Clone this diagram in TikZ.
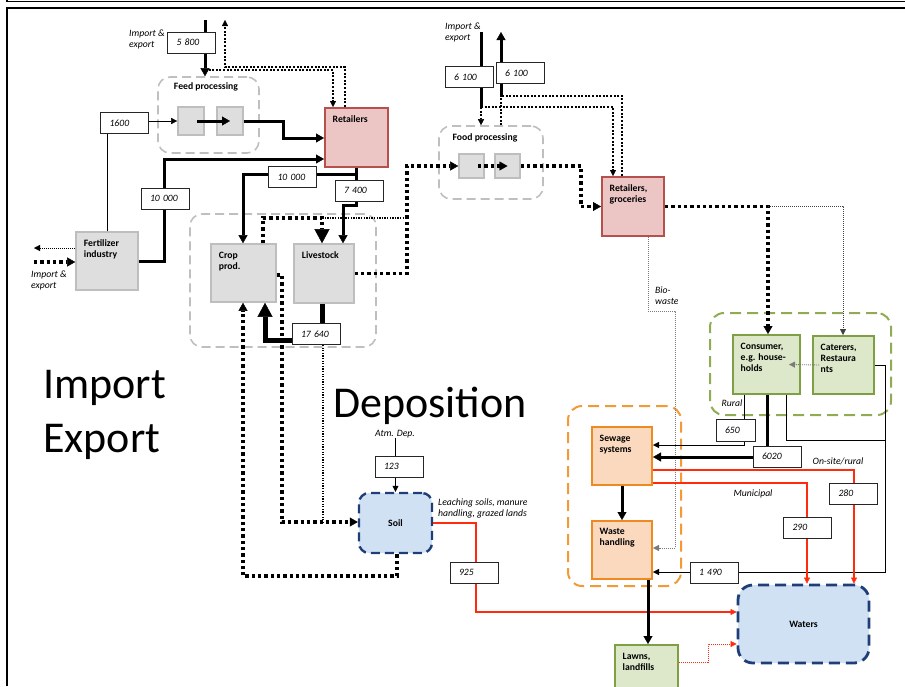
\documentclass[tikz,border=0pt]{standalone}
\usepackage{fontspec}
\setmainfont{Carlito}
\usetikzlibrary{arrows.meta}
\definecolor{gfill}{HTML}{DEDEDE}
\definecolor{gline}{HTML}{BEBEBE}
\definecolor{gdash}{HTML}{BFBFBF}
\definecolor{pfill}{HTML}{ECC5C5}
\definecolor{pline}{HTML}{B5504C}
\definecolor{grfill}{HTML}{DDE7CA}
\definecolor{grline}{HTML}{7F9F45}
\definecolor{grdash}{HTML}{8FAC55}
\definecolor{ofill}{HTML}{FBD9BE}
\definecolor{oline}{HTML}{EE8A22}
\definecolor{odash}{HTML}{F29A35}
\definecolor{bfill}{HTML}{D0E1F3}
\definecolor{bline}{HTML}{1F3E78}
\definecolor{redc}{HTML}{FF2B0F}
\definecolor{dgray}{HTML}{7A7A7A}
\newcommand\sfnt{\fontsize{9.7}{11}\selectfont}
\newcommand\bigfnt{\fontsize{44}{54}\selectfont}
\tikzset{
  grp/.style={draw=gdash, line width=1.6pt, dash pattern=on 9pt off 5pt, rounded corners=12pt, inner sep=0pt},
  grpgreen/.style={draw=grdash, line width=2pt, dash pattern=on 11pt off 6pt, rounded corners=14pt, inner sep=0pt},
  grporange/.style={draw=odash, line width=2pt, dash pattern=on 11pt off 6pt, rounded corners=14pt, inner sep=0pt},
  gbox/.style={draw=gline, fill=gfill, line width=1.6pt, inner sep=0pt},
  pbox/.style={draw=pline, fill=pfill, line width=2pt, inner sep=0pt},
  grbox/.style={draw=grline, fill=grfill, line width=2pt, inner sep=0pt},
  obox/.style={draw=oline, fill=ofill, line width=2pt, inner sep=0pt},
  bbox/.style={draw=bline, fill=bfill, line width=2.4pt, dash pattern=on 9pt off 5pt, rounded corners=10pt, inner sep=0pt},
  num/.style={draw=black!85, fill=white, line width=0.9pt, font=\sfnt\itshape, align=left, text width=30pt, inner xsep=9pt, inner ysep=0pt, minimum height=21pt},
  tl/.style={label={[anchor=north west,inner sep=0pt,xshift=8.5pt,yshift=-8.5pt,align=left,font=\sfnt\bfseries]north west:{#1}}},
  txt/.style={font=\sfnt\itshape, inner sep=0pt, align=left},
  thinl/.style={line width=0.9pt},
  thickl/.style={line width=3pt},
  vthick/.style={line width=5pt},
  dotA/.style={line width=3.3pt, dash pattern=on 3.3pt off 3pt},
  dotB/.style={line width=2pt, dash pattern=on 2pt off 1.6pt},
  dotM/.style={line width=1.3pt, dash pattern=on 1.3pt off 1.3pt},
  dotC/.style={line width=0.9pt, dash pattern=on 1pt off 1pt},
  redthin/.style={draw=redc, line width=1.2pt},
  tipS/.tip={Triangle[length=6pt,width=6pt,line width=0.4pt]},
  tipM/.tip={Triangle[length=8pt,width=9pt,line width=0.4pt]},
  tipL/.tip={Triangle[length=14pt,width=15pt,line width=0.4pt]},
}
\begin{document}
\begin{tikzpicture}[x=1pt,y=-1pt]
\useasboundingbox (0,0) rectangle (905,686);
% frame
\draw[line width=1.3pt] (7,0) -- (7,1.2) -- (905,1.2);
\draw[line width=2pt] (7,686) -- (7,7.5) -- (905,7.5);

% groups
\node[grp, minimum width=101pt, minimum height=76pt] (feedgrp) at (208.5,115) {};
\node[grp, minimum width=186pt, minimum height=133pt] (cropgrp) at (283,280.5) {};
\node[grp, minimum width=104pt, minimum height=73pt] (foodgrp) at (491,162.5) {};
\node[grpgreen, minimum width=181pt, minimum height=102pt] (consgrp) at (800.5,364) {};
\node[grporange, minimum width=113pt, minimum height=180pt] (sewgrp) at (624.5,496) {};
\node[font=\sfnt\bfseries, inner sep=0pt] (feedlbl) at (206,87) {Feed processing};
\node[font=\sfnt\bfseries, inner sep=0pt] (foodlbl) at (485,138) {Food processing};

% main nodes
\node[gbox, minimum width=26pt, minimum height=28pt] (fb1) at (191,121) {};
\node[gbox, minimum width=26pt, minimum height=28pt] (fb2) at (230,121) {};
\node[pbox, minimum width=63pt, minimum height=59pt, tl=Retailers] (ret) at (356.5,137.5) {};
\node[gbox, minimum width=62pt, minimum height=58pt, tl={Fertilizer\\industry}] (fert) at (107,261) {};
\node[gbox, minimum width=65pt, minimum height=58pt, tl={Crop\\prod.}] (crop) at (243.5,273) {};
\node[gbox, minimum width=60pt, minimum height=59pt, tl=Livestock] (live) at (324,273.5) {};
\node[bbox, minimum width=73pt, minimum height=60pt, font=\sfnt\bfseries] (soil) at (395.5,523) {Soil};
\node[gbox, minimum width=25pt, minimum height=24pt] (fd1) at (471.5,166) {};
\node[gbox, minimum width=25pt, minimum height=24pt] (fd2) at (507.5,166) {};
\node[pbox, minimum width=62pt, minimum height=59pt, tl={Retailers,\\groceries}] (retg) at (633,206.5) {};
\node[grbox, minimum width=67pt, minimum height=59pt, tl={Consumer,\\e.g. house-\\holds}] (cons) at (766.5,364.5) {};
\node[grbox, minimum width=61pt, minimum height=58pt, tl={Caterers,\\Restaura\\nts}] (cat) at (843.5,365) {};
\node[obox, minimum width=60pt, minimum height=58pt, tl={Sewage\\systems}] (sew) at (622,456) {};
\node[obox, minimum width=60pt, minimum height=58pt, tl={Waste\\handling}] (waste) at (622,550) {};
\node[grbox, minimum width=63pt, minimum height=55pt, tl={Lawns,\\landfills}] (lawns) at (646.5,672.5) {};
\node[bbox, line width=2.8pt, dash pattern=on 11pt off 6pt, minimum width=131pt, minimum height=78pt, rounded corners=15pt, font=\sfnt\bfseries] (waters) at (803.5,624) {Waters};

% free ends
\coordinate (in5800) at (205,20);
\coordinate (out5800) at (225,20);
\coordinate (j5800) at (205,70);
\coordinate (fexp) at (34,248);
\coordinate (fimp) at (34,262);
\coordinate (in6100) at (481,32);
\coordinate (j6100) at (481,107);
\coordinate (out6100) at (501,32);
\coordinate (j6100b) at (501,96);
\coordinate (fjA) at (322,218);
\coordinate (fjB) at (407,218);
\coordinate (cj) at (768,206);
\coordinate (rj) at (885,440);

% connectors
\draw[thickl, -{tipM}] (in5800) -- (feedgrp.north -| 205,0);
\draw[dotB, -{tipS}] (ret.north -| 345,0) |- (225,67) -- (out5800);
\draw[dotB, -{tipS}] (j5800) -| (ret.north -| 333,0);
\draw[thinl, -{tipS}] (fert.north -| 107,0) |- (fb1.west);
\draw[thickl, -{tipM}] (fb2.east) -| (283,138) -- (ret.west |- 0,138);
\draw[thickl, -{tipM}] (fert.east) -| (164,159) -- (ret.west |- 0,159);
\draw[dotC, -{tipS}] (fert.west |- 0,248) -- (fexp);
\draw[dotA, -{tipM}] (fimp) -- (fert.west |- 0,262);
\draw[thickl, -{tipM}] (ret.south -| 356,0) |- (243,174) -- (crop.north -| 243,0);
\draw[thickl, -{tipM}] (ret.south -| 356,0) -- (356,205) -| (live.north -| 343,0);
\draw[dotA, -{tipL}] (crop.north -| 263,0) |- (fjA) -- (live.north -| 322,0);
\draw[dotM] (fjA) -- (fjB);
\draw[dotA, -{tipM}] (live.east) -| (407,166) -- (fd1.west);
\draw[dotA, -{tipM}] (fd2.east) -| (581,206.5) -- (retg.west);
\draw[thickl] (in6100) -- (j6100);
\draw[dotB, -{tipS}] (j6100) -- (foodgrp.north -| 481,0);
\draw[dotB, -{tipS}] (j6100) -| (retg.north -| 613,0);
\draw[thickl, -{tipM}] (j6100b) -- (out6100);
\draw[dotB] (foodgrp.north -| 501,0) -- (j6100b);
\draw[dotB] (retg.north -| 622,0) |- (j6100b);
\draw[dotA, -{tipM}] (retg.east) -| (cons.north -| 768,0);
\draw[dotC, black!75, -{tipS}] (cj) -| (cat.north -| 843,0);
\draw[dotC, dgray, -{tipS}] (retg.south -| 648,0) |- (675,311) |- (waste.east |- 0,548);
\draw[thinl, -{tipS}] (cons.south -| 744,0) |- (sew.east |- 0,445);
\draw[thickl, -{tipM}] (cons.south -| 767,0) |- (sew.east |- 0,457);
\draw[thinl] (cons.south -| 786,0) |- (rj);
\draw[thinl, -{tipS}] (cat.east) -| (885,572) -- (waste.east |- 0,572);
\draw[redthin, -{tipS}] (sew.east |- 0,470) -| (waters.north -| 854,0);
\draw[redthin, -{tipS}] (sew.east |- 0,483) -| (waters.north -| 807,0);
\draw[redc, line width=1.6pt, -{tipS}] (soil.east) -| (476,612) -- (waters.west |- 0,612);
\draw[redc, dotC, -{tipS}] (lawns.east |- 0,662) -| (708,644) -- (waters.west |- 0,644);
\draw[thickl, -{tipM}] (sew.south) -- (waste.north);
\draw[thickl, -{tipM}] (waste.south -| 648,0) -- (lawns.north -| 648,0);
\draw[vthick, -{tipL}] (live.south -| 322,0) |- (265,340) -- (crop.south -| 265,0);
\draw[dotA, -{tipM}] (crop.east |- 0,275) -| (282,522) -- (soil.west |- 0,522);
\draw[dotA, -{tipM}] (soil.south -| 397,0) |- (243,576) -- (crop.south -| 243,0);
% arrows inside process boxes
\draw[thickl, -{tipM}] ([xshift=6pt]fb1.center) -- (fb2.center);
\draw[dotA, -{tipM}] ([xshift=6.5pt]fd1.center) -- (fd2.center);
\draw[dotC, dgray, -{tipS}] ([xshift=7pt]cat.west) -- ([xshift=-12pt]cons.east);

% labels
\node[txt, anchor=north west] (ie1) at (129,30) {Import \&\\export};
\node[txt, anchor=north west] (ie2) at (445,23) {Import \&\\export};
\node[txt, anchor=north west] (ie3) at (31,271) {Import \&\\export};
\node[txt] (atm) at (395,434) {Atm. Dep.};
\draw[thinl, -{tipS}] (atm.south -| soil.north) -- (soil.north);
\node[txt, anchor=north west] (leach) at (438,499) {Leaching soils, manure\\handling, grazed lands};
\node[txt, anchor=north west] (bio) at (655,287) {Bio-\\waste};
\node[txt] (rural) at (732,403) {Rural};
\node[txt] (onsite) at (838,461) {On-site/rural};
\node[txt] (munic) at (753,494) {Municipal};
\node[font=\bigfnt, anchor=base west, inner sep=0pt] (dep) at (333,417) {Deposition};
\node[font=\bigfnt, anchor=base west, inner sep=0pt] (imp) at (43,398) {Import};
\node[font=\bigfnt, anchor=base west, inner sep=0pt] (exp) at (43,452) {Export};

% number boxes
\node[num] (b5800) at (191.5,42.5) {5 800};
\node[num] (b1600) at (124.5,123) {1600};
\node[num] (b10000a) at (165,198.5) {10 000};
\node[num] (b10000b) at (292.5,177) {10 000};
\node[num] (b7400) at (359,190.5) {7 400};
\node[num] (b17640) at (316,334) {17 640};
\node[num] (b123) at (399,466.5) {123};
\node[num] (b925) at (474,572.5) {925};
\node[num] (b6100a) at (469,77) {6 100};
\node[num] (b6100b) at (520,73) {6 100};
\node[num, text width=21pt, minimum height=22pt] (b650) at (735.5,430) {650};
\node[num] (b6020) at (777,456.5) {6020};
\node[num] (b280) at (853.5,493.5) {280};
\node[num] (b290) at (807.5,527.5) {290};
\node[num] (b1490) at (714,572.5) {1 490};
\draw[dotC, line width=1.1pt, dash pattern=on 1.3pt off 1.3pt] (b17640.south -| 323,0) -- (323,522);
\end{tikzpicture}
\end{document}
